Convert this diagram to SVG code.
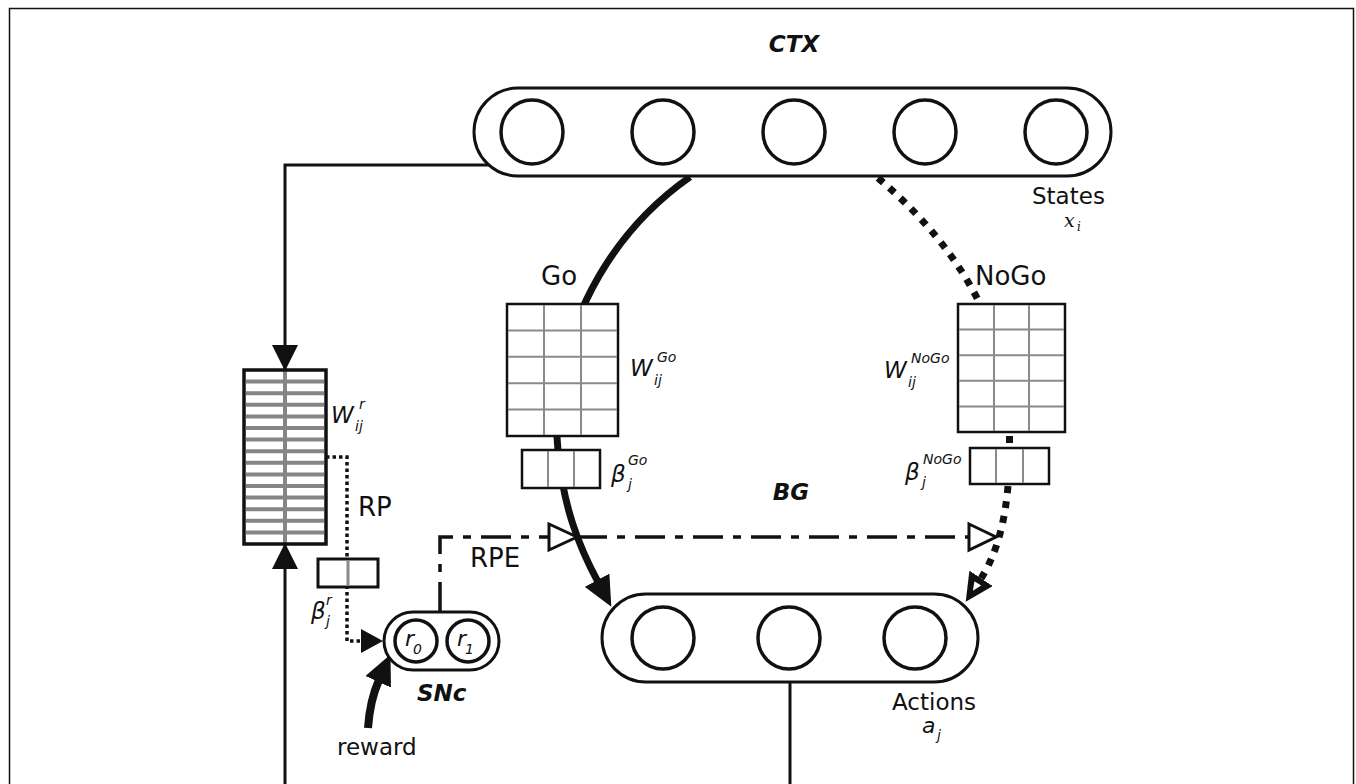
<svg xmlns="http://www.w3.org/2000/svg" width="1356" height="784" viewBox="0 0 1356 784">
<style>
.pill{fill:#fff;stroke:#111;stroke-width:3}
.unit{fill:#fff;stroke:#111;stroke-width:3.5}
.mat{fill:#fff;stroke:#111;stroke-width:2.5}
.grid{stroke:#8a8a8a;stroke-width:2}
.wgrid{stroke:#858585;stroke-width:4}
.line{fill:none;stroke:#111;stroke-width:3}
.go{fill:none;stroke:#111;stroke-width:7}
.nogo{fill:none;stroke:#111;stroke-width:7;stroke-dasharray:7 8}
.dot{fill:none;stroke:#111;stroke-width:3.5;stroke-dasharray:3.5 3}
.rpe{fill:none;stroke:#111;stroke-width:3.5;stroke-dasharray:30 10 8 10}
.open{fill:#fff;stroke:#111;stroke-width:3}
text{font-family:"DejaVu Sans",sans-serif;fill:#111}
.lbl{font-size:26px}
.lbl2{font-size:23px}
.bi{font-weight:bold;font-style:italic;font-size:23px}
.w{font-style:italic;font-size:23px}
.s{font-style:italic;font-size:14px}
.r{font-style:italic;font-size:22px}
.serif{font-family:"DejaVu Serif",serif;font-style:italic}
</style>
<defs>
<marker id="arrTip" markerUnits="userSpaceOnUse" markerWidth="26" markerHeight="26" viewBox="0 0 26 26" refX="25" refY="13" orient="auto">
<path d="M0,0 L26,13 L0,26 z" fill="#111"/>
</marker>
<marker id="arrSm" markerUnits="userSpaceOnUse" markerWidth="22" markerHeight="24" viewBox="0 0 22 24" refX="1" refY="12" orient="auto">
<path d="M0,0 L22,12 L0,24 z" fill="#111"/>
</marker>
<marker id="arrBig" markerUnits="userSpaceOnUse" markerWidth="30" markerHeight="28" viewBox="0 0 30 28" refX="2" refY="14" orient="auto">
<path d="M0,0 L30,14 L0,28 z" fill="#111"/>
</marker>
<marker id="arrNoGo" markerUnits="userSpaceOnUse" markerWidth="28" markerHeight="28" viewBox="0 0 28 28" refX="2" refY="14" orient="auto">
<path d="M0,0 L28,14 L0,28 z" fill="#111"/>
<path d="M6,10 L15,14 L6,18 z" fill="#fff"/>
</marker>
</defs>
<rect x="9.5" y="8.5" width="1344" height="800" fill="none" stroke="#111" stroke-width="1.5"/>

<g id="connectors">
<path class="line" d="M489,165 H285 V370" marker-end="url(#arrTip)"/>
<path class="line" d="M285,784 V544" marker-end="url(#arrTip)"/>
<path class="line" d="M790,682 V784"/>
<path class="go" d="M690,177 C600,240 548,350 558,450 C563,505 578,545 598,582" marker-end="url(#arrBig)"/>
<path class="nogo" d="M878,178 Q945,235 978,300"/>
<rect x="1006" y="436" width="7" height="7" fill="#111"/>
<path class="nogo" d="M1008,486 Q1003,545 980,580" marker-end="url(#arrNoGo)"/>
<path class="dot" d="M326,457 H347 V641 H362" marker-end="url(#arrSm)"/>
<path class="go" style="stroke-width:8" d="M368,728 Q370,700 379,680" marker-end="url(#arrBig)"/>
<path class="rpe" d="M440,612 V537 H549"/>
<path class="rpe" d="M577,537 H969"/>
<polygon class="open" points="549,524 577,537 549,550"/>
<polygon class="open" points="969,524 996,537 969,550"/>
</g>

<g id="ctx">
<rect class="pill" x="474" y="88" width="637" height="88" rx="44"/>
<ellipse class="unit" cx="532" cy="132" rx="31" ry="32"/>
<ellipse class="unit" cx="663" cy="132" rx="31" ry="32"/>
<ellipse class="unit" cx="794" cy="132" rx="31" ry="32"/>
<ellipse class="unit" cx="925" cy="132" rx="31" ry="32"/>
<ellipse class="unit" cx="1056" cy="132" rx="31" ry="32"/>
<text class="bi" x="794" y="52" text-anchor="middle">CTX</text>
<text class="lbl2" x="1032" y="204">States</text>
<text class="serif" x="1064" y="227" font-size="19">x</text>
<text class="serif" x="1077" y="231" font-size="12">i</text>
</g>

<g id="go">
<rect class="mat" x="507" y="304" width="111" height="132"/>
<line class="grid" x1="544" y1="305" x2="544" y2="435"/>
<line class="grid" x1="581" y1="305" x2="581" y2="435"/>
<line class="grid" x1="508" y1="330.4" x2="617" y2="330.4"/>
<line class="grid" x1="508" y1="356.8" x2="617" y2="356.8"/>
<line class="grid" x1="508" y1="383.2" x2="617" y2="383.2"/>
<line class="grid" x1="508" y1="409.6" x2="617" y2="409.6"/>
<rect class="mat" x="522" y="450" width="78" height="38"/>
<line class="grid" x1="548" y1="451" x2="548" y2="487"/>
<line class="grid" x1="574" y1="451" x2="574" y2="487"/>
<text class="lbl" x="541" y="285">Go</text>
<text class="w" x="630" y="376">W</text>
<text class="s" x="654" y="385">ij</text>
<text class="s" x="657" y="362">Go</text>
<text class="w" x="611" y="482">β</text>
<text class="s" x="628" y="489">j</text>
<text class="s" x="628" y="465">Go</text>
</g>

<g id="nogo">
<rect class="mat" x="958" y="304" width="107" height="128"/>
<line class="grid" x1="994" y1="305" x2="994" y2="431"/>
<line class="grid" x1="1029" y1="305" x2="1029" y2="431"/>
<line class="grid" x1="959" y1="329.6" x2="1064" y2="329.6"/>
<line class="grid" x1="959" y1="355.2" x2="1064" y2="355.2"/>
<line class="grid" x1="959" y1="380.8" x2="1064" y2="380.8"/>
<line class="grid" x1="959" y1="406.4" x2="1064" y2="406.4"/>
<rect class="mat" x="970" y="448" width="79" height="36"/>
<line class="grid" x1="996" y1="449" x2="996" y2="483"/>
<line class="grid" x1="1023" y1="449" x2="1023" y2="483"/>
<text class="lbl" x="975" y="285">NoGo</text>
<text class="w" x="884" y="378">W</text>
<text class="s" x="908" y="387">ij</text>
<text class="s" x="911" y="363">NoGo</text>
<text class="w" x="905" y="480">β</text>
<text class="s" x="922" y="487">j</text>
<text class="s" x="923" y="464">NoGo</text>
</g>

<g id="bg-label">
<text class="bi" x="791" y="500" text-anchor="middle">BG</text>
</g>

<g id="reward-predictor">
<rect x="244" y="370" width="82" height="174" fill="#fff"/>
<line class="wgrid" x1="285" y1="371" x2="285" y2="543"/>
<line class="wgrid" x1="246" y1="381.6" x2="324" y2="381.6"/>
<line class="wgrid" x1="246" y1="393.2" x2="324" y2="393.2"/>
<line class="wgrid" x1="246" y1="404.8" x2="324" y2="404.8"/>
<line class="wgrid" x1="246" y1="416.4" x2="324" y2="416.4"/>
<line class="wgrid" x1="246" y1="428" x2="324" y2="428"/>
<line class="wgrid" x1="246" y1="439.6" x2="324" y2="439.6"/>
<line class="wgrid" x1="246" y1="451.2" x2="324" y2="451.2"/>
<line class="wgrid" x1="246" y1="462.8" x2="324" y2="462.8"/>
<line class="wgrid" x1="246" y1="474.4" x2="324" y2="474.4"/>
<line class="wgrid" x1="246" y1="486" x2="324" y2="486"/>
<line class="wgrid" x1="246" y1="497.6" x2="324" y2="497.6"/>
<line class="wgrid" x1="246" y1="509.2" x2="324" y2="509.2"/>
<line class="wgrid" x1="246" y1="520.8" x2="324" y2="520.8"/>
<line class="wgrid" x1="246" y1="532.4" x2="324" y2="532.4"/>
<rect x="244" y="370" width="82" height="174" fill="none" stroke="#111" stroke-width="3.5"/>
<text class="w" x="331" y="423">W</text>
<text class="s" x="355" y="431">ij</text>
<text class="s" x="359" y="409">r</text>
<text class="lbl" x="358" y="516">RP</text>
</g>

<g id="beta-r">
<rect x="318" y="559" width="60" height="28" fill="#fff" stroke="#111" stroke-width="3"/>
<line class="grid" x1="348" y1="560" x2="348" y2="586" style="stroke-width:3"/>
<text class="w" x="311" y="619">β</text>
<text class="s" x="326" y="626">j</text>
<text class="s" x="326" y="605">r</text>
</g>

<g id="snc">
<rect class="pill" x="384" y="612" width="115" height="58" rx="29"/>
<circle class="unit" cx="416" cy="641" r="21"/>
<circle class="unit" cx="468" cy="641" r="21"/>
<text class="r" x="405" y="646">r</text>
<text class="s" x="413" y="654">0</text>
<text class="r" x="457" y="646">r</text>
<text class="s" x="465" y="654">1</text>
<text class="bi" x="417" y="701">SNc</text>
<text class="lbl2" x="337" y="755">reward</text>
<text class="lbl" x="470" y="567">RPE</text>
</g>

<g id="actions">
<rect class="pill" x="602" y="594" width="376" height="88" rx="44"/>
<circle class="unit" cx="663" cy="638" r="31"/>
<circle class="unit" cx="789" cy="638" r="31"/>
<circle class="unit" cx="915" cy="638" r="31"/>
<text class="lbl2" x="892" y="710">Actions</text>
<text class="r" x="922" y="733">a</text>
<text class="s" x="937" y="740">j</text>
</g>
</svg>
